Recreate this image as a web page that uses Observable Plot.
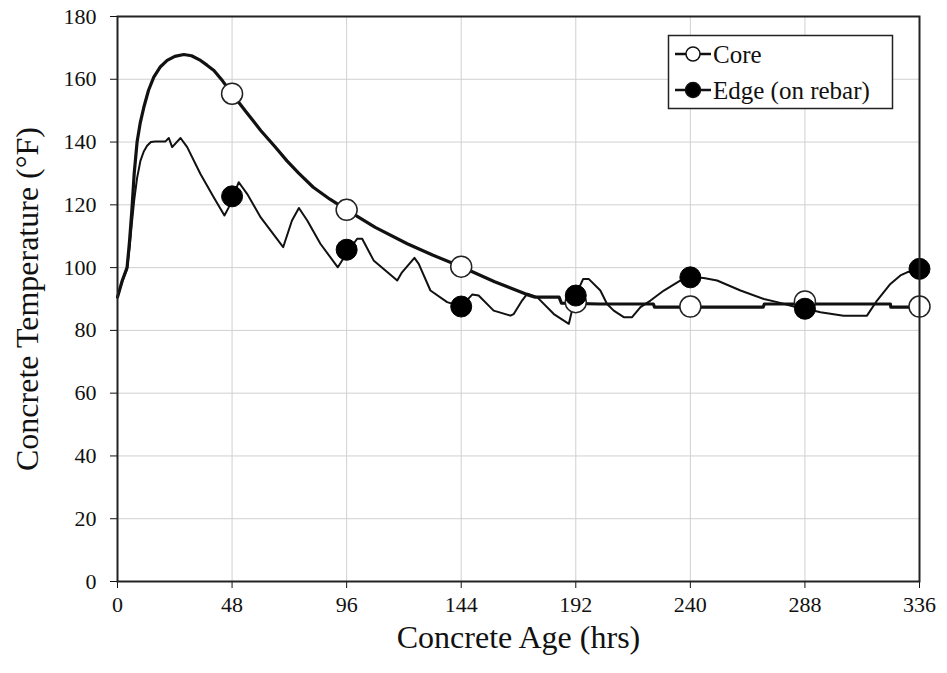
<!DOCTYPE html>
<html>
<head>
<meta charset="utf-8">
<script src="https://cdn.jsdelivr.net/npm/d3@7"></script>
<script src="https://cdn.jsdelivr.net/npm/@observablehq/plot@0.6"></script>
<style>
  html, body { margin: 0; padding: 0; background: #fff; }
  #chart svg { display: block; }
</style>
</head>
<body>
<div id="chart"></div>
<script>
// ---- Data ----
const xTicks = [0, 48, 96, 144, 192, 240, 288, 336];
const yTicks = [0, 20, 40, 60, 80, 100, 120, 140, 160, 180];
const xLabel = "Concrete Age (hrs)";
const yLabel = "Concrete Temperature (°F)";
const seriesNames = ["Core", "Edge (on rebar)"];

// Core temperature trace [hours, °F]
const coreHours = [0, 2, 4, 5, 6, 7, 8.2, 9.5, 11, 13, 15.2, 18, 20.8, 24, 27.8, 31, 34.8, 37.5, 40.4, 44, 48, 54, 60, 66, 71, 76, 82, 89, 96, 108, 121.4, 132, 144, 158, 171.6, 175, 185, 186, 202, 224.5, 225, 270.5, 271, 323.8, 324, 336];
const coreTemp  = [90.6, 95.9, 100, 108, 118, 130, 140, 146, 151, 156.5, 160.7, 164, 166, 167.3, 167.9, 167.5, 166, 164.5, 162.8, 159.5, 155.4, 149.5, 143.7, 138.5, 134, 130, 125.6, 121.8, 118.4, 112.8, 107.6, 104, 100.3, 95.5, 91.4, 90.6, 90.6, 88.7, 88.4, 88.4, 87.4, 87.4, 88.4, 88.4, 87.4, 87.4];

// Edge (on rebar) temperature trace [hours, °F]
const edgeHours = [0, 2, 4, 5, 6, 7, 8.2, 9.6, 11, 12.4, 14, 15.9, 20.1, 21.5, 22.9, 26.4, 29.2, 34.7, 40.3, 44.8, 46.6, 50.8, 54.3, 60, 69.4, 73.1, 76, 79.5, 85, 92.3, 96, 100.4, 102.5, 107.3, 117.2, 119.2, 124.4, 126.2, 131.1, 138.1, 143.9, 148.6, 151.3, 157.6, 164.6, 166, 169.5, 171.7, 175.8, 182.8, 189.1, 191.9, 195.1, 197.4, 202.3, 205.1, 207.9, 212.1, 215.6, 219.1, 223.3, 228.9, 235.9, 240.3, 245.6, 251.2, 261, 270.8, 276.4, 283.3, 288.5, 294.5, 304.2, 314, 318.2, 323.8, 328, 330.8, 336];
const edgeTemp  = [90.6, 95.5, 99.5, 106, 114, 121.5, 128.5, 134, 137, 138.8, 140, 140.2, 140.2, 141.3, 138.4, 141.3, 138.4, 129.9, 122.4, 116.6, 119.2, 127.2, 123.5, 116, 106.5, 115, 119, 115, 107.6, 100.1, 104.5, 109.2, 109.2, 102.3, 95.9, 98.5, 103.1, 101.2, 92.7, 89, 87.6, 91.4, 91.1, 86.3, 84.7, 85.2, 89.5, 91.7, 90.6, 85.2, 82.1, 91.1, 96.4, 96.4, 92.7, 88.4, 86.3, 84.2, 84.2, 87.4, 89.5, 92.7, 95.9, 96.9, 96.7, 95.9, 92.7, 90, 89, 87.6, 86.9, 85.8, 84.7, 84.7, 89.5, 94.8, 97.5, 98.5, 99.6];

// Marker points every 48 hours
const markerHours = [48, 96, 144, 192, 240, 288, 336];
const coreMarkers = [155.4, 118.4, 100.3, 89.0, 87.6, 89.2, 87.6];
const edgeMarkers = [122.7, 105.7, 87.6, 91.1, 96.9, 86.9, 99.6];

// ---- Build tables ----
const core = coreHours.map((h, i) => ({h, t: coreTemp[i]}));
const edge = edgeHours.map((h, i) => ({h, t: edgeTemp[i]}));
const coreM = markerHours.map((h, i) => ({h, t: coreMarkers[i]}));
const edgeM = markerHours.map((h, i) => ({h, t: edgeMarkers[i]}));

const font = "'Liberation Serif', 'Times New Roman', serif";

const chart = Plot.plot({
  width: 947,
  height: 673,
  marginLeft: 117,
  marginRight: 28,
  marginTop: 16,
  marginBottom: 92,
  style: {fontFamily: font, fontSize: "22px", color: "#111", background: "#fff"},
  x: {domain: [0, 336], ticks: xTicks},
  y: {domain: [0, 180], ticks: yTicks},
  marks: [
    Plot.gridX(xTicks, {stroke: "#d0d0d0", strokeOpacity: 1, strokeWidth: 1}),
    Plot.gridY(yTicks, {stroke: "#d0d0d0", strokeOpacity: 1, strokeWidth: 1}),
    Plot.axisX({ticks: xTicks, tickSize: 7, tickPadding: 8, label: null, fontSize: 22, tickFormat: d => String(d)}),
    Plot.axisY({ticks: yTicks, tickSize: 7, tickPadding: 14, label: null, fontSize: 22, tickFormat: d => String(d)}),
    Plot.line(edge, {x: "h", y: "t", stroke: "#111", strokeWidth: 2, curve: "linear"}),
    Plot.line(core, {x: "h", y: "t", stroke: "#111", strokeWidth: 3.2, curve: "linear"}),
    Plot.dot(coreM, {x: "h", y: "t", r: 10.5, fill: "#fff", stroke: "#222", strokeWidth: 1.5}),
    Plot.dot(edgeM, {x: "h", y: "t", r: 10.5, fill: "#000", stroke: "#000", strokeWidth: 1}),
    Plot.frame({stroke: "#222", strokeWidth: 2}),
    Plot.text([xLabel], {frameAnchor: "bottom", dy: 66, text: d => d, fontSize: 32, fill: "#111", textAnchor: "middle"}),
    Plot.text([yLabel], {frameAnchor: "left", dx: -90, rotate: -90, text: d => d, fontSize: 32, fill: "#111", textAnchor: "middle"})
  ]
});

document.getElementById("chart").appendChild(chart);

// ---- Legend (drawn inside the SVG) ----
const svg = d3.select(chart);
const lg = svg.append("g").attr("font-family", font).attr("text-anchor", "start");
lg.append("rect").attr("x", 668.5).attr("y", 35.5).attr("width", 224).attr("height", 73)
  .attr("fill", "#fff").attr("stroke", "#222").attr("stroke-width", 1.5);
const rows = [
  {name: seriesNames[0], y: 54, fill: "#fff", r: 7},
  {name: seriesNames[1], y: 90, fill: "#000", r: 7.5}
];
rows.forEach(row => {
  lg.append("line").attr("x1", 675).attr("x2", 711).attr("y1", row.y).attr("y2", row.y)
    .attr("stroke", "#111").attr("stroke-width", 2.5);
  lg.append("circle").attr("cx", 693).attr("cy", row.y).attr("r", row.r)
    .attr("fill", row.fill).attr("stroke", "#111").attr("stroke-width", 1.5);
  lg.append("text").attr("x", 713).attr("y", row.y).attr("dy", "0.35em")
    .attr("text-anchor", "start").attr("font-size", 25).attr("fill", "#111").text(row.name);
});
</script>
</body>
</html>
